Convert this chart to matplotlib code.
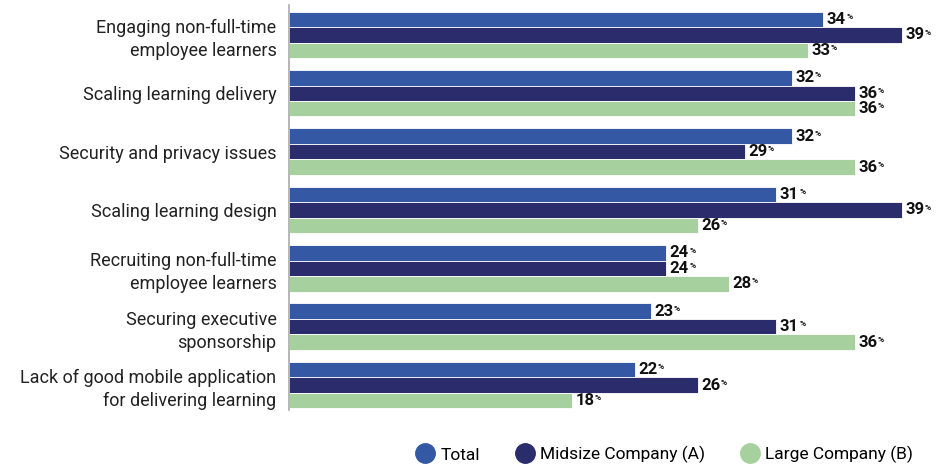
import numpy as np
import matplotlib
matplotlib.use("Agg")
import matplotlib.pyplot as plt
from matplotlib.lines import Line2D

plt.rcParams['font.family'] = ['Roboto', 'DejaVu Sans']

categories = [
    "Engaging non-full-time\nemployee learners",
    "Scaling learning delivery",
    "Security and privacy issues",
    "Scaling learning design",
    "Recruiting non-full-time\nemployee learners",
    "Securing executive\nsponsorship",
    "Lack of good mobile application\nfor delivering learning",
]
series_names = ["Total", "Midsize Company (A)", "Large Company (B)"]
total = [34, 32, 32, 31, 24, 23, 22]
midsize = [39, 36, 29, 39, 24, 31, 26]
large = [33, 36, 36, 26, 28, 36, 18]
colors = ["#3558a4", "#2b2c6c", "#a6d19e"]

fig = plt.figure(figsize=(9.46, 4.65), dpi=100)
ax = fig.add_axes([0.3055, 0.118, 0.6945, 0.871])

y = np.arange(len(categories))
h = 0.265
for k, (vals, col) in enumerate(zip([total, midsize, large], colors)):
    pos = y + (k - 1) * h
    ax.barh(pos, vals, height=h, color=col, edgecolor="white", linewidth=0.6)
    for p, v in zip(pos, vals):
        t = ax.annotate(str(v), xy=(v, p), xytext=(2.5, 0), textcoords="offset points",
                        ha="left", va="center", fontsize=12, fontweight="bold",
                        color="#111111")
        ax.annotate("%", xy=(1, 0.92), xycoords=t, xytext=(0.3, 0),
                    textcoords="offset points", ha="left", va="top",
                    fontsize=6, fontweight="bold", color="#111111")

ax.set_xlim(0, 41.8)
ax.set_ylim(6.43, -0.51)
ax.set_yticks(y)
ax.set_yticklabels(categories, fontsize=13, color="#222222", linespacing=1.35)
ax.tick_params(axis="y", length=0, pad=9)
ax.set_xticks([])
for s in ["top", "right", "bottom"]:
    ax.spines[s].set_visible(False)
ax.spines["left"].set_color("#aaaaaa")
ax.spines["left"].set_linewidth(1.2)

handles = [Line2D([], [], marker="o", linestyle="none", markersize=14,
                  markerfacecolor=c, markeredgecolor=c) for c in colors]
fig.legend(handles, series_names, loc="center left", bbox_to_anchor=(0.422, 0.022),
           ncol=3, frameon=False, fontsize=12.5, handletextpad=0.3,
           columnspacing=1.95, handlelength=1.2)

fig.savefig("out.png", dpi=100)
